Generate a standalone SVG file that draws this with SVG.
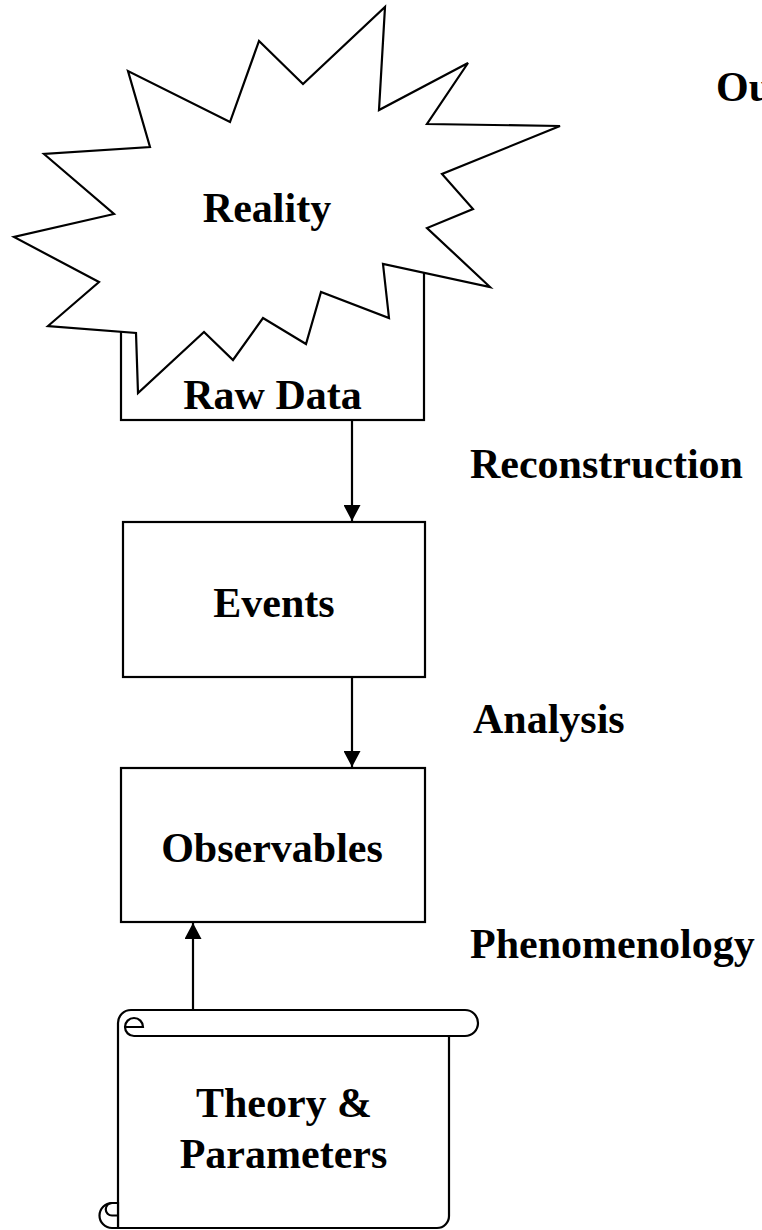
<svg xmlns="http://www.w3.org/2000/svg" width="762" height="1230" viewBox="0 0 762 1230">
<defs>
<style>
.shape{fill:#fff;stroke:#000;stroke-width:2.2;stroke-linejoin:miter}
.line{fill:none;stroke:#000;stroke-width:2.2}
.lbl{font-family:"Liberation Serif","Times New Roman",serif;font-weight:bold;font-size:42px;fill:#000}
.mid{text-anchor:middle}
</style>
<marker id="ah" viewBox="0 0 16 17" refX="16" refY="8.5" markerWidth="16" markerHeight="17" markerUnits="userSpaceOnUse" orient="auto">
<path d="M0,0 L16,8.5 L0,17 Z" fill="#000"/>
</marker>
</defs>
<rect width="762" height="1230" fill="#fff"/>

<g id="rawdata">
<rect class="shape" x="121" y="262" width="303" height="158"/>
<text class="lbl mid" x="272.5" y="409">Raw Data</text>
</g>

<g id="reality">
<polygon class="shape" points="385,7 379,110 468,63 427,124 560,126 442,174 473,209 427,228 490,287 383,264 389,318 321,292 306,344 263,318 233,360 204,332 138,393 136,333 48,326 99,282 14,237 114,214 44,154 150,147 128,71 230,122 259,41 303,84"/>
<text class="lbl mid" x="267" y="222">Reality</text>
</g>

<g id="events">
<rect class="shape" x="123" y="522" width="302" height="155"/>
<text class="lbl mid" x="274" y="617">Events</text>
</g>

<g id="observables">
<rect class="shape" x="121" y="768" width="304" height="154"/>
<text class="lbl mid" x="272" y="862">Observables</text>
</g>

<g id="theory">
<path class="shape" d="M118,1228 V1023 A13,13 0 0 1 131,1010 H465 A13,13 0 0 1 465,1036 H449 V1216 A12,12 0 0 1 437,1228 Z"/>
<path class="line" d="M465,1036 H134 A9,9 0 1 1 143,1027 H125"/>
<path class="shape" d="M118,1203 H112 A12.5,12.5 0 0 0 112,1228 H118 Z"/>
<path class="line" d="M118,1215.5 H112 A6,6 0 0 1 112,1203"/>
<text class="lbl mid" x="284" y="1117">Theory &amp;</text>
<text class="lbl mid" x="283.5" y="1168">Parameters</text>
</g>

<g id="connectors">
<line class="line" x1="352" y1="420" x2="352" y2="521" marker-end="url(#ah)"/>
<line class="line" x1="352" y1="677" x2="352" y2="767" marker-end="url(#ah)"/>
<line class="line" x1="193" y1="1010" x2="193" y2="923" marker-end="url(#ah)"/>
</g>

<g id="labels">
<text class="lbl" x="716" y="101">Ou</text>
<text class="lbl" x="470" y="478">Reconstruction</text>
<text class="lbl" x="473" y="733">Analysis</text>
<text class="lbl" x="470" y="958">Phenomenology</text>
</g>
</svg>
